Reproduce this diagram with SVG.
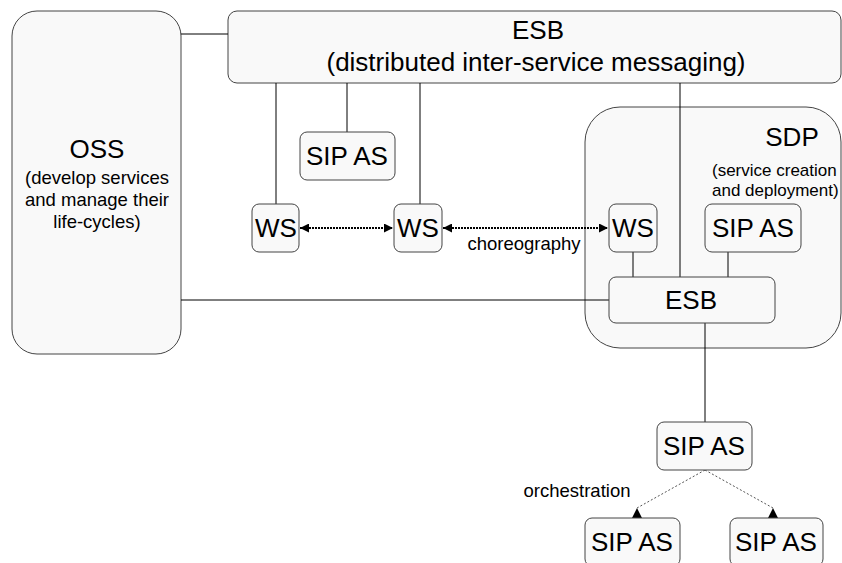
<svg xmlns="http://www.w3.org/2000/svg" width="842" height="563" viewBox="0 0 842 563">
<style>
.n{fill:#f9f9f9;stroke:#444;stroke-width:1}
.t{font-family:"Liberation Sans",Arial,sans-serif;fill:#000;text-anchor:middle}
.b{font-size:26px}
.s{font-size:18.5px}
.l{stroke:#000;stroke-width:1;fill:none}
.d{stroke:#000;stroke-width:2;stroke-dasharray:2 1;fill:none}
.o{stroke:#555;stroke-width:1;stroke-dasharray:2 2;fill:none}
</style>
<defs>
<marker id="a" viewBox="0 0 10 10" refX="10" refY="5" markerWidth="9" markerHeight="9" orient="auto-start-reverse" markerUnits="userSpaceOnUse"><path d="M0,0L10,5L0,10z" fill="#000"/></marker>
<marker id="b" viewBox="0 0 10 10" refX="0" refY="5" markerWidth="10" markerHeight="10" orient="90" markerUnits="userSpaceOnUse"><path d="M0,5L10,0L10,10z" fill="#000"/></marker>
</defs>
<g id="oss"><rect class="n" x="12" y="11" width="169" height="343" rx="25"/>
<text class="t b" x="97" y="158">OSS</text>
<text class="t s" x="97" y="184">(develop services</text>
<text class="t s" x="97" y="206">and manage their</text>
<text class="t s" x="97" y="228">life-cycles)</text></g>
<g id="esb-top"><rect class="n" x="228" y="11" width="613" height="72" rx="9"/>
<text class="t b" x="538" y="39">ESB</text>
<text class="t b" x="536" y="71">(distributed inter-service messaging)</text></g>
<g id="sdp"><rect class="n" x="585" y="107" width="256" height="241" rx="35"/>
<text class="t b" x="792" y="146">SDP</text>
<text class="t" x="712" y="176" font-size="17" style="text-anchor:start">(service creation</text>
<text class="t" x="712" y="196" font-size="17" style="text-anchor:start">and deployment)</text></g>
<g id="connectors">
<path class="l" d="M181,34H228"/>
<path class="l" d="M181,300H609"/>
<path class="l" d="M276,83V204"/>
<path class="l" d="M347,83V132"/>
<path class="l" d="M420,83V204"/>
<path class="l" d="M680,83V277"/>
<path class="l" d="M633,252V277"/>
<path class="l" d="M728,252V277"/>
<path class="l" d="M705,323V422"/>
<path class="d" d="M300,228H393" marker-start="url(#a)" marker-end="url(#a)"/>
<path class="d" d="M443,228H608" marker-start="url(#a)" marker-end="url(#a)"/>
<path class="o" d="M705,470L637,508" marker-end="url(#b)"/>
<path class="o" d="M705,470L773,508" marker-end="url(#b)"/>
</g>
<g id="sip1"><rect class="n" x="300" y="132" width="95" height="48" rx="7"/>
<text class="t b" x="347" y="165">SIP AS</text></g>
<g id="ws1"><rect class="n" x="252" y="204" width="47" height="48" rx="7"/>
<text class="t b" x="276" y="237">WS</text></g>
<g id="ws2"><rect class="n" x="394" y="204" width="48" height="48" rx="7"/>
<text class="t b" x="418" y="237">WS</text></g>
<text class="t s" x="524" y="250">choreography</text>
<g id="ws3"><rect class="n" x="609" y="204" width="48" height="48" rx="7"/>
<text class="t b" x="633" y="237">WS</text></g>
<g id="sip2"><rect class="n" x="705" y="204" width="96" height="48" rx="7"/>
<text class="t b" x="753" y="237">SIP AS</text></g>
<g id="esb-low"><rect class="n" x="609" y="277" width="166" height="46" rx="7"/>
<text class="t b" x="691" y="309">ESB</text></g>
<g id="sip3"><rect class="n" x="657" y="422" width="95" height="48" rx="7"/>
<text class="t b" x="704" y="455">SIP AS</text></g>
<text class="t s" x="577" y="497">orchestration</text>
<g id="sip4"><rect class="n" x="585" y="518" width="95" height="48" rx="7"/>
<text class="t b" x="632" y="551">SIP AS</text></g>
<g id="sip5"><rect class="n" x="730" y="518" width="93" height="48" rx="7"/>
<text class="t b" x="776" y="551">SIP AS</text></g>
</svg>
